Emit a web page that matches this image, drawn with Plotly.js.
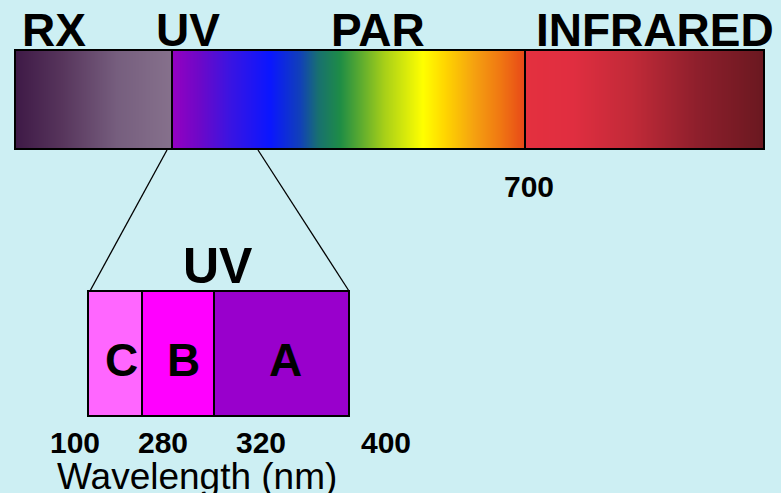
<!DOCTYPE html>
<html>
<head>
<meta charset="utf-8">
<script src="https://cdn.plot.ly/plotly-3.0.1.min.js"></script>
<style>html,body{margin:0;padding:0;background:#cdeff3;}#chart{width:781px;height:493px;}</style>
</head>
<body>
<div id="chart"></div>
<script>
// ---- data ----
const regionLabels = ['RX', 'UV', 'PAR', 'INFRARED'];
const spectrumTickLabels = ['700'];
const uvBandLabels = ['C', 'B', 'A'];
const uvTickLabels = ['100', '280', '320', '400'];
const uvTitle = 'UV';
const axisTitle = 'Wavelength (nm)';

// ---- colour styles ----
const rxScale = [[0, '#3e1946'], [0.3, '#57355c'], [0.65, '#765e7e'], [1, '#86718c']];
const parScale = [
  [0.000, '#9600c0'], [0.080, '#6c08c8'], [0.165, '#3a14e2'], [0.278, '#0a16ff'],
  [0.363, '#1140b8'], [0.414, '#187070'], [0.476, '#1e8c46'], [0.533, '#5aaa30'],
  [0.603, '#a8d018'], [0.711, '#ffff00'], [0.773, '#ffd600'], [0.858, '#f5a010'],
  [0.929, '#f07812'], [1.000, '#e84818']
];
const irScale = [[0, '#e4303f'], [0.2, '#e02e40'], [0.45, '#c12a38'], [0.72, '#8e1f2c'], [1, '#6a1820']];
const uvBandColors = ['#ff66ff', '#ff00ff', '#9900cc'];

// ---- layout geometry (diagram units = page pixels) ----
const G = {
  bar: {y0: 50, y1: 149, edges: [15, 172, 525, 764]},
  labelX: [54, 188, 378, 655], labelY: 30, labelSize: [46, 46, 46, 46],
  tickX: [529], tickY: 186,
  uvBox: {y0: 291, y1: 416, edges: [88, 142, 214, 349]},
  uvTitleXY: [218, 266],
  bandLabelX: [121, 183, 285], bandLabelY: 360,
  uvTickX: [75, 163, 261, 386], uvTickY: 442,
  axisTitleXY: [197, 476],
  zoomFrom: [167, 258]
};

function gradientTrace(x0, x1, scale) {
  const xs = [], zs = [];
  for (let x = x0; x <= x1; x++) xs.push(x);
  for (let i = 0; i < xs.length - 1; i++) zs.push((xs[i] + xs[i + 1]) / 2);
  return {
    type: 'heatmap', x: xs, y: [G.bar.y0, G.bar.y1], z: [zs],
    zmin: x0, zmax: x1, colorscale: scale, showscale: false, hoverinfo: 'skip'
  };
}

const e = G.bar.edges;
const traces = [
  gradientTrace(e[0], e[1], rxScale),
  gradientTrace(e[1], e[2], parScale),
  gradientTrace(e[2], e[3], irScale)
];

const shapes = [];
const blk = {color: '#000', width: 2};
shapes.push({type: 'rect', xref: 'x', yref: 'y', x0: e[0], x1: e[3], y0: G.bar.y0, y1: G.bar.y1, line: blk, layer: 'above'});
[e[1], e[2]].forEach(x => shapes.push({type: 'line', xref: 'x', yref: 'y', x0: x, x1: x, y0: G.bar.y0, y1: G.bar.y1, line: blk, layer: 'above'}));

const u = G.uvBox;
uvBandLabels.forEach((lab, i) => {
  shapes.push({type: 'rect', xref: 'x', yref: 'y', x0: u.edges[i], x1: u.edges[i + 1], y0: u.y0, y1: u.y1,
    fillcolor: uvBandColors[i], line: blk, layer: 'below'});
});
shapes.push({type: 'line', xref: 'x', yref: 'y', x0: G.zoomFrom[0], y0: G.bar.y1 + 1, x1: u.edges[0] + 2, y1: u.y0, line: {color: '#000', width: 1.3}});
shapes.push({type: 'line', xref: 'x', yref: 'y', x0: G.zoomFrom[1], y0: G.bar.y1 + 1, x1: u.edges[3], y1: u.y0, line: {color: '#000', width: 1.3}});

const ann = [];
const bold = 'Liberation Sans, Arial, sans-serif';
regionLabels.forEach((t, i) => {
  ann.push({xref: 'x', yref: 'y', x: G.labelX[i], y: G.labelY, text: '<b>' + t + '</b>', showarrow: false,
    font: {family: bold, size: G.labelSize[i], color: '#000'}});
});
spectrumTickLabels.forEach((t, i) => ann.push({xref: 'x', yref: 'y', x: G.tickX[i], y: G.tickY, text: '<b>' + t + '</b>', showarrow: false, font: {family: bold, size: 30, color: '#000'}}));
ann.push({xref: 'x', yref: 'y', x: G.uvTitleXY[0], y: G.uvTitleXY[1], text: '<b>' + uvTitle + '</b>', showarrow: false, font: {family: bold, size: 50, color: '#000'}});
uvBandLabels.forEach((t, i) => ann.push({xref: 'x', yref: 'y', x: G.bandLabelX[i], y: G.bandLabelY, text: '<b>' + t + '</b>', showarrow: false, font: {family: bold, size: 46, color: '#000'}}));
uvTickLabels.forEach((t, i) => ann.push({xref: 'x', yref: 'y', x: G.uvTickX[i], y: G.uvTickY, text: '<b>' + t + '</b>', showarrow: false, font: {family: bold, size: 30, color: '#000'}}));
ann.push({xref: 'x', yref: 'y', x: G.axisTitleXY[0], y: G.axisTitleXY[1], text: axisTitle, showarrow: false, font: {family: bold, size: 37, color: '#000'}});

const layout = {
  width: 781, height: 493,
  margin: {l: 0, r: 0, t: 0, b: 0, pad: 0},
  paper_bgcolor: '#cdeff3', plot_bgcolor: '#cdeff3',
  xaxis: {range: [0, 781], visible: false, fixedrange: true},
  yaxis: {range: [493, 0], visible: false, fixedrange: true},
  shapes: shapes, annotations: ann, showlegend: false
};
Plotly.newPlot('chart', traces, layout, {staticPlot: true, displayModeBar: false});
</script>
</body>
</html>
